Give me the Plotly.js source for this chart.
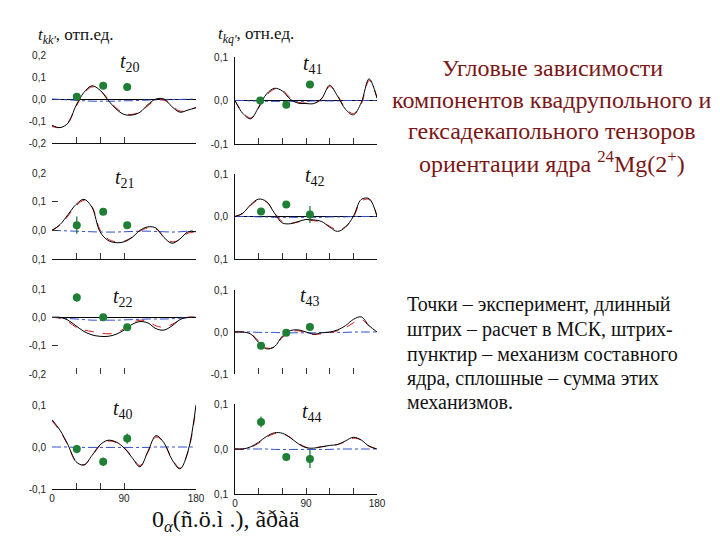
<!DOCTYPE html>
<html><head><meta charset="utf-8">
<script src="https://cdn.plot.ly/plotly-3.0.1.min.js"></script>
<style>body{margin:0;background:#fff}#chart{width:720px;height:540px}</style>
</head><body><div id="chart"></div>
<script>
// ---------- DATA ----------
const ANGLES = [0,10,20,30,40,50,60,70,80,90,100,110,120,130,140,150,160,170,180];

// t20
const T20_SUM = [-0.12,-0.13,-0.11,-0.03,0.03,0.06,0.04,-0.005,-0.045,-0.07,-0.073,-0.06,-0.025,0.0,0.0,-0.035,-0.06,-0.05,-0.04];
const T20_MSK = [-0.125,-0.13,-0.105,-0.035,0.025,0.055,0.04,0.0,-0.04,-0.065,-0.07,-0.058,-0.03,-0.005,-0.005,-0.03,-0.055,-0.05,-0.038];
const T20_CN  = [0,-0.002,-0.004,-0.006,-0.008,-0.01,-0.01,-0.01,-0.01,-0.008,-0.008,-0.006,-0.005,-0.004,-0.004,-0.003,-0.002,-0.001,0];
const T20_EXP_X = [31,64,94];
const T20_EXP_Y = [0.01,0.06,0.055];
const T20_EXP_E = [0.015,0.004,0.004];

// t41
const T41_SUM = [0,-0.03,-0.042,-0.015,0.015,0.028,0.022,0.003,-0.006,-0.007,-0.007,0.005,0.035,0.01,-0.02,-0.033,-0.005,0.05,0.005];
const T41_MSK = [0,-0.028,-0.04,-0.017,0.012,0.026,0.024,0.006,-0.004,-0.006,-0.006,0.004,0.032,0.012,-0.018,-0.03,-0.008,0.046,0.008];
const T41_CN  = [0,0,-0.001,-0.001,-0.002,-0.002,-0.002,-0.002,-0.002,-0.002,-0.001,-0.001,-0.001,-0.001,0,0,0,0,0];
const T41_EXP_X = [32,65,95];
const T41_EXP_Y = [0.0,-0.01,0.037];
const T41_EXP_E = [0.004,0.004,0.004];

// t21
const T21_SUM = [0.0,0.02,0.055,0.09,0.108,0.08,-0.005,-0.035,-0.043,-0.04,-0.025,0.0,0.012,0.008,-0.025,-0.045,-0.03,-0.005,-0.005];
const T21_MSK = [0.0,0.018,0.05,0.085,0.104,0.082,0.002,-0.03,-0.04,-0.038,-0.024,-0.003,0.008,0.004,-0.022,-0.04,-0.032,-0.01,-0.006];
const T21_CN  = [0,-0.001,-0.002,-0.003,-0.004,-0.005,-0.006,-0.006,-0.006,-0.005,-0.004,-0.003,-0.003,-0.004,-0.005,-0.006,-0.005,-0.003,-0.002];
const T21_EXP_X = [31,64,94];
const T21_EXP_Y = [0.018,0.065,0.018];
const T21_EXP_E = [0.03,0.005,0.005];

// t42
const T42_SUM = [0,0.008,0.028,0.041,0.035,0.008,-0.015,-0.017,-0.012,-0.007,-0.008,-0.012,-0.025,-0.035,-0.025,0.0,0.04,0.042,0.0];
const T42_MSK = [0,0.007,0.026,0.039,0.034,0.01,-0.012,-0.016,-0.013,-0.009,-0.01,-0.013,-0.023,-0.032,-0.024,-0.002,0.036,0.04,0.002];
const T42_CN  = [0,0,0,-0.001,-0.001,-0.002,-0.002,-0.002,-0.002,-0.002,-0.002,-0.002,-0.001,-0.001,-0.001,0,0,0,0];
const T42_EXP_X = [33,65,95];
const T42_EXP_Y = [0.012,0.028,0.005];
const T42_EXP_E = [0.004,0.004,0.02];

// t22
const T22_SUM = [0,0,-0.01,-0.03,-0.05,-0.062,-0.067,-0.067,-0.06,-0.045,-0.025,-0.015,-0.02,-0.04,-0.045,-0.03,-0.008,0,0];
const T22_MSK = [0,-0.003,-0.015,-0.035,-0.045,-0.05,-0.055,-0.058,-0.055,-0.04,-0.02,-0.01,-0.015,-0.03,-0.035,-0.025,-0.01,0,0];
const T22_CN  = [0,-0.002,-0.004,-0.006,-0.008,-0.01,-0.01,-0.01,-0.01,-0.009,-0.008,-0.007,-0.006,-0.006,-0.006,-0.005,-0.003,-0.001,0];
const T22_EXP_X = [31,64,94];
const T22_EXP_Y = [0.07,0.0,-0.035];
const T22_EXP_E = [0.015,0.004,0.004];

// t43
const T43_SUM = [0,0,-0.005,-0.025,-0.04,-0.035,-0.01,0.003,0.005,0,-0.005,-0.002,0.0,0.005,0.015,0.03,0.036,0.015,0];
const T43_MSK = [0,0,-0.004,-0.022,-0.038,-0.036,-0.013,0.0,0.003,-0.002,-0.006,-0.004,-0.002,0.003,0.01,0.022,0.03,0.014,0];
const T43_CN  = [0,0,0,-0.001,-0.001,-0.001,-0.002,-0.002,-0.002,-0.002,-0.002,-0.001,-0.001,-0.001,-0.001,0,0,0,0];
const T43_EXP_X = [33,65,95];
const T43_EXP_Y = [-0.033,-0.002,0.012];
const T43_EXP_E = [0.004,0.004,0.004];

// t40
const T40_SUM = [0.065,0.04,0.005,-0.035,-0.043,-0.02,0.005,0.016,0.012,-0.002,-0.025,-0.047,-0.01,0.027,0.01,-0.03,-0.052,-0.01,0.1];
const T40_MSK = [0.062,0.038,0.004,-0.033,-0.042,-0.021,0.003,0.014,0.011,-0.001,-0.023,-0.044,-0.012,0.024,0.009,-0.028,-0.05,-0.012,0.095];
const T40_CN  = [0,0,0,-0.001,-0.001,-0.001,-0.001,-0.001,-0.001,-0.001,-0.001,-0.001,-0.001,0,0,0,0,0,0];
const T40_EXP_X = [31,64,94];
const T40_EXP_Y = [-0.005,-0.035,0.02];
const T40_EXP_E = [0.01,0.01,0.012];

// t44
const T44_SUM = [0,0,0.005,0.015,0.028,0.036,0.035,0.025,0.012,0.003,0.002,0.005,0.008,0.01,0.018,0.026,0.02,0.006,0];
const T44_MSK = [0,0,0.004,0.013,0.026,0.034,0.034,0.026,0.013,0.004,0.003,0.005,0.007,0.01,0.016,0.024,0.02,0.007,0];
const T44_CN  = [0,0,0,0,0,-0.001,-0.001,-0.001,-0.001,-0.001,-0.001,-0.001,-0.001,0,0,0,0,0,0];
const T44_EXP_X = [33,65,95];
const T44_EXP_Y = [0.06,-0.018,-0.022];
const T44_EXP_E = [0.012,0.004,0.02];

// tick labels
const Y_TICKS_T20 = [-0.2,-0.1,0,0.1,0.2];
const Y_LABELS_T20 = ['-0,2','-0,1','0,0','0,1','0,2'];
const Y_TICKS_T41 = [-0.1,0,0.1];
const Y_LABELS_T41 = ['-0,1','0,0','0,1'];
const Y_TICKS_T21 = [-0.1,0,0.1,0.2];
const Y_LABELS_T21 = ['0,1','0,0','0,1','0,2'];
const Y_TICKS_T42 = [-0.1,0,0.1];
const Y_LABELS_T42 = ['0,1','0,0','0,1'];
const Y_TICKS_T22 = [-0.2,-0.1,0,0.1];
const Y_LABELS_T22 = ['-0,2','-0,1','0,0','0,1'];
const Y_TICKS_T43 = [-0.1,0,0.1];
const Y_LABELS_T43 = ['-0,1','0,0','0,1'];
const Y_TICKS_T40 = [-0.1,0,0.1];
const Y_LABELS_T40 = ['-0,1','0,0','0,1'];
const Y_TICKS_T44 = [-0.1,0,0.1];
const Y_LABELS_T44 = ['0,1','0,0','0,1'];

const X_TICKS_LEFT = [30,60,90];
const X_TICKS_LEFT_BOTTOM = [0,30,60,90,180];
const X_LABELS_LEFT_BOTTOM = ['0',' ',' ','90','180'];
const X_TICKS_RIGHT = [30,60,90,120,150,180];
const X_TICKS_RIGHT_BOTTOM = [0,30,60,90,120,150,180];
const X_LABELS_RIGHT_BOTTOM = ['0',' ',' ','90',' ',' ','180'];

const PANEL_NAMES = ['20','41','21','42','22','43','40','44'];

// ---------- LAYOUT ----------
const W = 720, H = 540;
const px = x => x / W;
const py = y => 1 - y / H;
const GREEN = '#1f7f35';
const SERIF = 'Liberation Serif, serif';
const SANS = 'Liberation Sans, Arial, sans-serif';

const panels = [
  {sum:T20_SUM,msk:T20_MSK,cn:T20_CN,ex:T20_EXP_X,ey:T20_EXP_Y,ee:T20_EXP_E,col:0,top:55,bot:143,range:[-0.2,0.2],yt:Y_TICKS_T20,yl:Y_LABELS_T20,zero:true,xline:true,bottom:false,lab:[118,62],yin:false},
  {sum:T41_SUM,msk:T41_MSK,cn:T41_CN,ex:T41_EXP_X,ey:T41_EXP_Y,ee:T41_EXP_E,col:1,top:57,bot:144,range:[-0.1,0.1],yt:Y_TICKS_T41,yl:Y_LABELS_T41,zero:true,xline:true,bottom:false,lab:[301,65],yin:false},
  {sum:T21_SUM,msk:T21_MSK,cn:T21_CN,ex:T21_EXP_X,ey:T21_EXP_Y,ee:T21_EXP_E,col:0,top:173,bot:259,range:[-0.1,0.2],yt:Y_TICKS_T21,yl:Y_LABELS_T21,zero:false,xline:true,bottom:false,lab:[113,178],yin:true},
  {sum:T42_SUM,msk:T42_MSK,cn:T42_CN,ex:T42_EXP_X,ey:T42_EXP_Y,ee:T42_EXP_E,col:1,top:174,bot:259,range:[-0.1,0.1],yt:Y_TICKS_T42,yl:Y_LABELS_T42,zero:true,xline:true,bottom:false,lab:[303,177],yin:false},
  {sum:T22_SUM,msk:T22_MSK,cn:T22_CN,ex:T22_EXP_X,ey:T22_EXP_Y,ee:T22_EXP_E,col:0,top:289,bot:374,range:[-0.2,0.1],yt:Y_TICKS_T22,yl:Y_LABELS_T22,zero:true,xline:false,bottom:false,lab:[111,297],yin:true},
  {sum:T43_SUM,msk:T43_MSK,cn:T43_CN,ex:T43_EXP_X,ey:T43_EXP_Y,ee:T43_EXP_E,col:1,top:290,bot:374,range:[-0.1,0.1],yt:Y_TICKS_T43,yl:Y_LABELS_T43,zero:false,xline:false,bottom:false,lab:[298,296],yin:false},
  {sum:T40_SUM,msk:T40_MSK,cn:T40_CN,ex:T40_EXP_X,ey:T40_EXP_Y,ee:T40_EXP_E,col:0,top:405,bot:489,range:[-0.1,0.1],yt:Y_TICKS_T40,yl:Y_LABELS_T40,zero:false,xline:true,bottom:true,lab:[111,409],yin:false},
  {sum:T44_SUM,msk:T44_MSK,cn:T44_CN,ex:T44_EXP_X,ey:T44_EXP_Y,ee:T44_EXP_E,col:1,top:404,bot:494,range:[-0.1,0.1],yt:Y_TICKS_T44,yl:Y_LABELS_T44,zero:false,xline:true,bottom:true,lab:[300,412],yin:false}
];

const COLX = [[52,196],[235,377]];
const traces = [];
const layout = {
  width: W, height: H,
  margin: {l:0,r:0,t:0,b:0},
  paper_bgcolor: '#fff', plot_bgcolor: 'rgba(0,0,0,0)',
  showlegend: false,
  font: {family: SANS},
  annotations: []
};

panels.forEach((p, i) => {
  const n = i + 1;
  const xa = 'x' + (n === 1 ? '' : n), ya = 'y' + (n === 1 ? '' : n);
  const xk = 'xaxis' + (n === 1 ? '' : n), yk = 'yaxis' + (n === 1 ? '' : n);
  const left = p.col === 0;
  let xt, xl;
  if (p.bottom) { xt = left ? X_TICKS_LEFT_BOTTOM : X_TICKS_RIGHT_BOTTOM; xl = left ? X_LABELS_LEFT_BOTTOM : X_LABELS_RIGHT_BOTTOM; }
  else { xt = left ? X_TICKS_LEFT : X_TICKS_RIGHT; xl = xt.map(() => ' '); }
  layout[xk] = {
    domain: [px(COLX[p.col][0]), px(COLX[p.col][1])],
    anchor: ya, range: [0, 180], fixedrange: true,
    showgrid: false, zeroline: false,
    showline: p.xline, linecolor: '#111', linewidth: 1,
    ticks: 'inside', ticklen: 6, tickwidth: 1, tickcolor: '#333',
    tickmode: 'array', tickvals: xt, ticktext: xl,
    showticklabels: p.bottom,
    ticklabelstandoff: 0,
    tickfont: {family: SANS, size: 10, color: '#222'}
  };
  layout[yk] = {
    domain: [py(p.bot), py(p.top)],
    anchor: xa, range: p.range, fixedrange: true,
    showgrid: false,
    zeroline: p.zero, zerolinecolor: '#000', zerolinewidth: 1,
    showline: !left, linecolor: '#111', linewidth: 1,
    ticks: p.yin ? 'inside' : '', ticklen: 6, tickcolor: '#333',
    tickmode: 'array', tickvals: p.yt, ticktext: p.yl,
    ticklabelstandoff: left ? 5 : 4,
    tickfont: {family: SANS, size: 10, color: '#222'}
  };
  traces.push({x: ANGLES, y: p.cn, xaxis: xa, yaxis: ya, mode: 'lines', line: {color: '#2f4fd0', width: 1, dash: 'dashdot', shape: 'spline'}, hoverinfo: 'skip'});
  traces.push({x: ANGLES, y: p.msk, xaxis: xa, yaxis: ya, mode: 'lines', line: {color: '#d01818', width: 1, dash: 'dash', shape: 'spline'}, hoverinfo: 'skip'});
  traces.push({x: ANGLES, y: p.sum, xaxis: xa, yaxis: ya, mode: 'lines', line: {color: '#000', width: 1, shape: 'spline'}, hoverinfo: 'skip'});
  traces.push({x: p.ex, y: p.ey, xaxis: xa, yaxis: ya, mode: 'markers',
    marker: {color: GREEN, size: 8},
    error_y: {type: 'data', array: p.ee, visible: true, color: GREEN, thickness: 1.3, width: 0}, cliponaxis: false});
  layout.annotations.push({xref: 'paper', yref: 'paper', x: px(p.lab[0]), y: py(p.lab[1]),
    xanchor: 'left', yanchor: 'middle', showarrow: false,
    text: '<i>t</i><sub>' + PANEL_NAMES[i] + '</sub>',
    font: {family: SERIF, size: 20, color: '#111'}});
});

// headers
layout.annotations.push({xref:'paper',yref:'paper',x:px(36),y:py(36),xanchor:'left',yanchor:'middle',showarrow:false,
  text:"<i>t</i><sub><i>kk'</i></sub>, отп.ед.", font:{family:SERIF,size:17,color:'#111'}});
layout.annotations.push({xref:'paper',yref:'paper',x:px(216),y:py(35),xanchor:'left',yanchor:'middle',showarrow:false,
  text:"<i>t</i><sub><i>kq'</i></sub>, отн.ед.", font:{family:SERIF,size:17,color:'#111'}});

// x title
layout.annotations.push({xref:'paper',yref:'paper',x:px(150),y:py(521),xanchor:'left',yanchor:'middle',showarrow:false,
  text:"0<sub><i>α</i></sub>(ñ.ö.ì .), ãðàä", font:{family:SERIF,size:24,color:'#111'}});

// title block
const TITLE_LINES = ['Угловые зависимости','компонентов квадрупольного и','гексадекапольного тензоров','ориентации ядра <sup>24</sup>Mg(2<sup>+</sup>)'];
const TITLE_Y = [68,100,131,162];
TITLE_LINES.forEach((t, k) => layout.annotations.push({xref:'paper',yref:'paper',x:px(552),y:py(TITLE_Y[k]),xanchor:'center',yanchor:'middle',showarrow:false,
  text:t, font:{family:SERIF,size:24,color:'#7a1616'}}));

const NOTE_LINES = ['Точки – эксперимент, длинный','штрих – расчет в МСК, штрих-','пунктир – механизм составного','ядра, сплошные – сумма этих','механизмов.'];
const NOTE_Y = [304,329,354,378,402];
NOTE_LINES.forEach((t, k) => layout.annotations.push({xref:'paper',yref:'paper',x:px(405),y:py(NOTE_Y[k]),xanchor:'left',yanchor:'middle',showarrow:false,
  text:t, font:{family:SERIF,size:20,color:'#111'}}));

Plotly.newPlot('chart', traces, layout, {staticPlot: true});
</script></body></html>
